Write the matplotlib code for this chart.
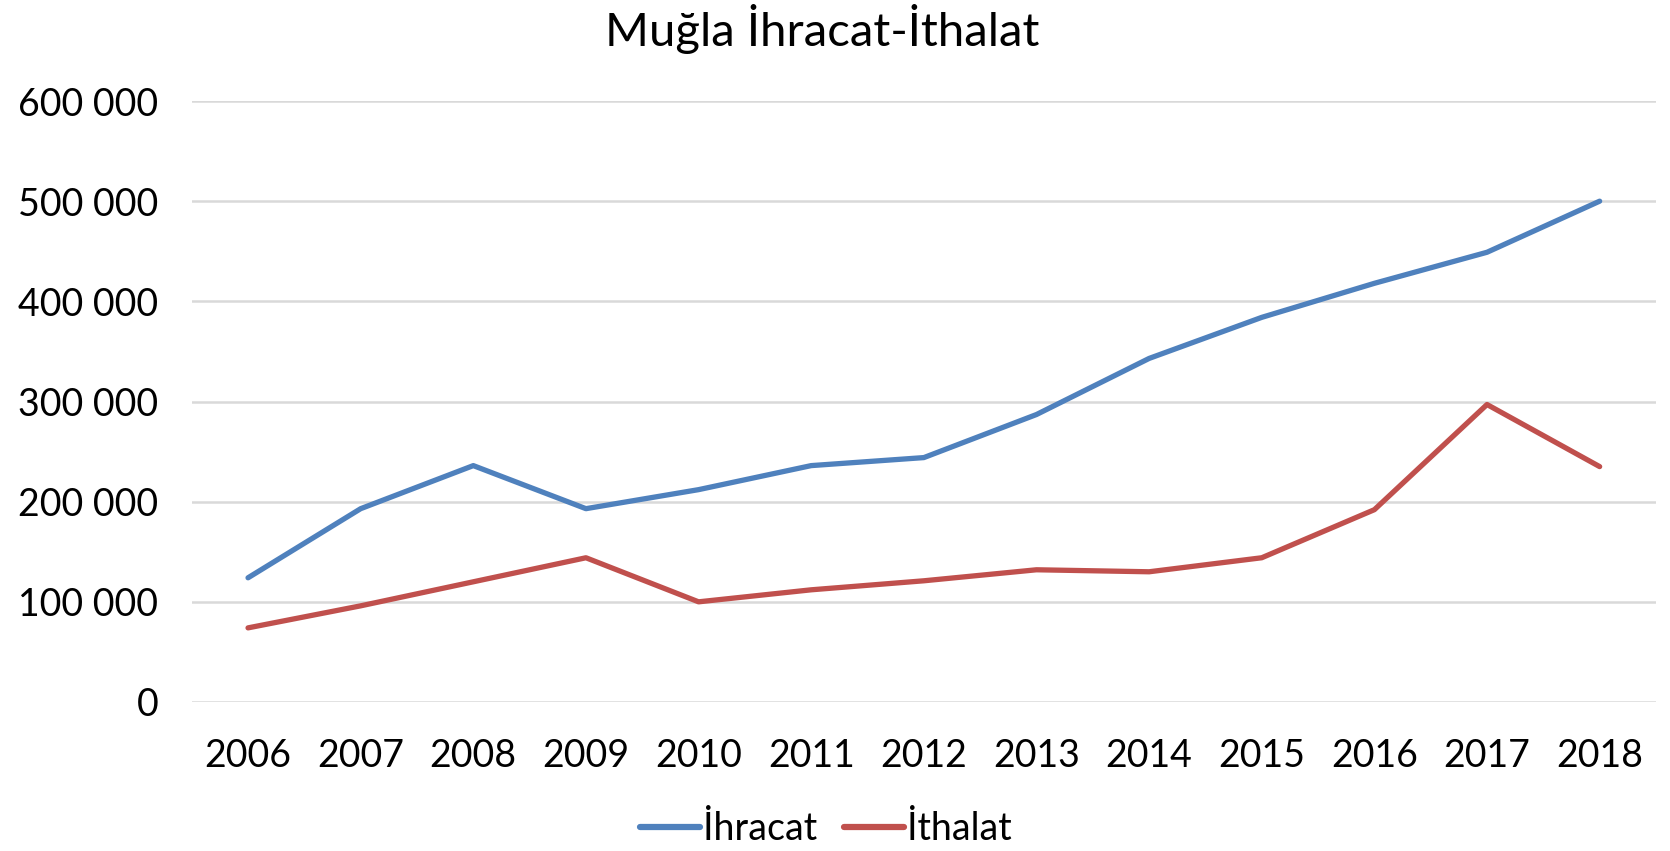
import matplotlib
matplotlib.use('Agg')
import matplotlib.pyplot as plt
from matplotlib.ticker import FuncFormatter

# Data
years = ['2006', '2007', '2008', '2009', '2010', '2011', '2012',
         '2013', '2014', '2015', '2016', '2017', '2018']
ihracat = [124000, 193000, 236000, 193000, 212000, 236000, 244000,
           287000, 343000, 384000, 418000, 449000, 500000]
ithalat = [74000, 96000, 120000, 144000, 100000, 112000, 121000,
           132000, 130000, 144000, 192000, 297000, 235000]

plt.rcParams['font.family'] = ['Lato', 'DejaVu Sans']

fig = plt.figure(figsize=(16.7, 8.51), dpi=100)
ax = fig.add_axes([0.1148, 0.1751, 0.8768, 0.7062])

x = range(len(years))
ax.plot(x, ihracat, color='#4F81BD', linewidth=3.8, solid_capstyle='round', label='İhracat')
ax.plot(x, ithalat, color='#C0504D', linewidth=3.8, solid_capstyle='round', label='İthalat')

ax.set_xlim(-0.5, len(years) - 0.5)
ax.set_ylim(0, 600000)
ax.set_yticks(range(0, 600001, 100000))
ax.yaxis.set_major_formatter(FuncFormatter(lambda v, p: f'{int(v):,}'.replace(',', ' ')))
ax.set_xticks(list(x))
ax.set_xticklabels(years)

ax.grid(axis='y', color='#D9D9D9', linewidth=1.8)
ax.set_axisbelow(True)
for s in ax.spines.values():
    s.set_visible(False)
ax.tick_params(axis='both', length=0, labelsize=27)
ax.tick_params(axis='y', pad=24)
ax.tick_params(axis='x', pad=26)

fig.text(0.4925, 1 - 29 / 851, 'Muğla İhracat-İthalat', fontsize=34, ha='center', va='center')

leg = fig.legend(loc='center', bbox_to_anchor=(0.4945, 1 - 829 / 851), ncol=2, frameon=False,
                 fontsize=27, handlelength=1.6, handletextpad=0.1, columnspacing=0.7)
for h in leg.get_lines():
    h.set_linewidth(4.5)

fig.savefig('out.png', dpi=100)
